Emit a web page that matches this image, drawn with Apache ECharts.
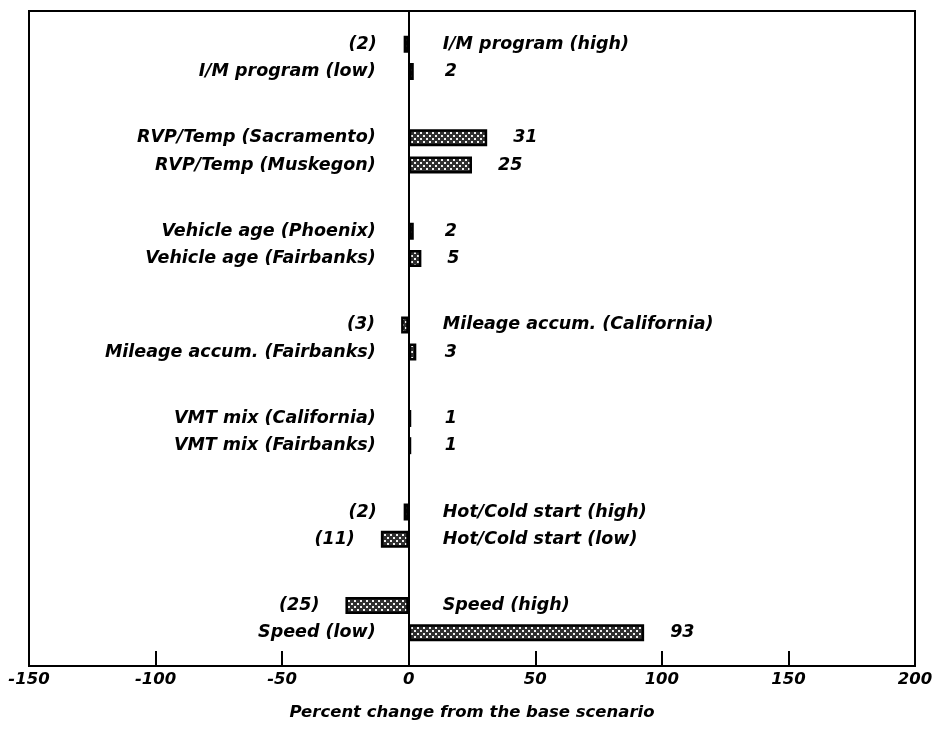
<!DOCTYPE html>
<html>
<head>
<meta charset="utf-8">
<script src="https://cdn.jsdelivr.net/npm/echarts@6/dist/echarts.min.js"></script>
<style>
  html, body { margin: 0; padding: 0; background: #fff; }
  #chart { width: 935px; height: 730px; }
</style>
</head>
<body>
<div id="chart"></div>
<script>
// Sensitivity groups, each with an upper and a lower scenario row
const groups = ['I/M program', 'RVP/Temp', 'Vehicle age', 'Mileage accum.', 'VMT mix', 'Hot/Cold start', 'Speed'];
const upperLabels = ['I/M program (high)', 'RVP/Temp (Sacramento)', 'Vehicle age (Phoenix)', 'Mileage accum. (California)', 'VMT mix (California)', 'Hot/Cold start (high)', 'Speed (high)'];
const upperValues = [-2, 31, 2, -3, 1, -2, -25];
const lowerLabels = ['I/M program (low)', 'RVP/Temp (Muskegon)', 'Vehicle age (Fairbanks)', 'Mileage accum. (Fairbanks)', 'VMT mix (Fairbanks)', 'Hot/Cold start (low)', 'Speed (low)'];
const lowerValues = [2, 25, 5, 3, 1, -11, 93];
const axisMin = -150;
const axisMax = 200;
const axisStep = 50;
const axisTitle = 'Percent change from the base scenario';

// Layout / style constants
const BAR_W = 17;
const BAR_GAP = 0.6;
const FONT = 'italic bold 17.5px "DejaVu Sans"';

// Cross-hatched fill for the bars: staggered light dots on a dark ground
const tile = document.createElement('canvas');
tile.width = 6; tile.height = 6;
const tctx = tile.getContext('2d');
tctx.fillStyle = '#303030';
tctx.fillRect(0, 0, 6, 6);
tctx.fillStyle = '#f2f2f2';
tctx.fillRect(0, 0, 2, 2);
tctx.fillRect(3, 3, 2, 2);
const hatch = { image: tile, repeat: 'repeat' };

// Rows for the text layer: [value, groupIndex, rowInGroup]
const labelRows = [];
groups.forEach((g, i) => {
  labelRows.push([upperValues[i], i, 0]);
  labelRows.push([lowerValues[i], i, 1]);
});

function rowName(gi, row) {
  return row === 0 ? upperLabels[gi] : lowerLabels[gi];
}

function renderLabels(params, api) {
  const v = api.value(0);
  const gi = api.value(1);
  const row = api.value(2);
  const zero = api.coord([0, gi]);
  const end = api.coord([v, gi]);
  const pitch = BAR_W * (1 + BAR_GAP);
  const y = zero[1] + (row === 0 ? -pitch / 2 : pitch / 2);
  const x0 = zero[0];
  const children = [];
  if (v >= 0) {
    children.push({ type: 'text', style: { text: rowName(gi, row), x: x0 - 33, y: y, align: 'right', verticalAlign: 'middle', font: FONT, fill: '#000' } });
    children.push({ type: 'text', style: { text: String(v), x: Math.max(x0 + 36, end[0] + 26), y: y, align: 'left', verticalAlign: 'middle', font: FONT, fill: '#000' } });
  } else {
    children.push({ type: 'text', style: { text: rowName(gi, row), x: x0 + 34, y: y, align: 'left', verticalAlign: 'middle', font: FONT, fill: '#000' } });
    children.push({ type: 'text', style: { text: '(' + Math.abs(v) + ')', x: Math.min(x0 - 32, end[0] - 26), y: y, align: 'right', verticalAlign: 'middle', font: FONT, fill: '#000' } });
  }
  return { type: 'group', children: children };
}

const chart = echarts.init(document.getElementById('chart'), null, { renderer: 'canvas' });
chart.setOption({
  backgroundColor: '#fff',
  animation: false,
  grid: {
    left: 29, right: 20, top: 11, bottom: 64,
    show: true, borderColor: '#000', borderWidth: 2,
    outerBoundsMode: 'none'
  },
  xAxis: {
    type: 'value',
    min: axisMin, max: axisMax, interval: axisStep,
    name: axisTitle,
    nameLocation: 'middle',
    nameGap: 38,
    nameTextStyle: { fontFamily: 'DejaVu Sans', fontStyle: 'italic', fontWeight: 'bold', fontSize: 16.5, color: '#000' },
    axisLine: { show: true, lineStyle: { color: '#000', width: 2 } },
    axisTick: { show: true, inside: true, length: 15, lineStyle: { color: '#000', width: 2 } },
    splitLine: { show: false },
    axisLabel: { margin: 5, fontFamily: 'DejaVu Sans', fontStyle: 'italic', fontWeight: 'bold', fontSize: 16.5, color: '#000' }
  },
  yAxis: {
    type: 'category',
    data: groups,
    inverse: true,
    axisLine: { show: true, onZero: true, lineStyle: { color: '#000', width: 2 } },
    axisTick: { show: false },
    axisLabel: { show: false },
    splitLine: { show: false }
  },
  series: [
    {
      type: 'bar', name: 'upper', data: upperValues,
      barWidth: BAR_W, barGap: (BAR_GAP * 100) + '%',
      itemStyle: { color: hatch, borderColor: '#000', borderWidth: 2.5 }
    },
    {
      type: 'bar', name: 'lower', data: lowerValues,
      barWidth: BAR_W, barGap: (BAR_GAP * 100) + '%',
      itemStyle: { color: hatch, borderColor: '#000', borderWidth: 2.5 }
    },
    {
      type: 'custom', name: 'labels', data: labelRows,
      encode: { x: 0, y: 1 },
      renderItem: renderLabels,
      z: 5, silent: true
    }
  ]
});
</script>
</body>
</html>
